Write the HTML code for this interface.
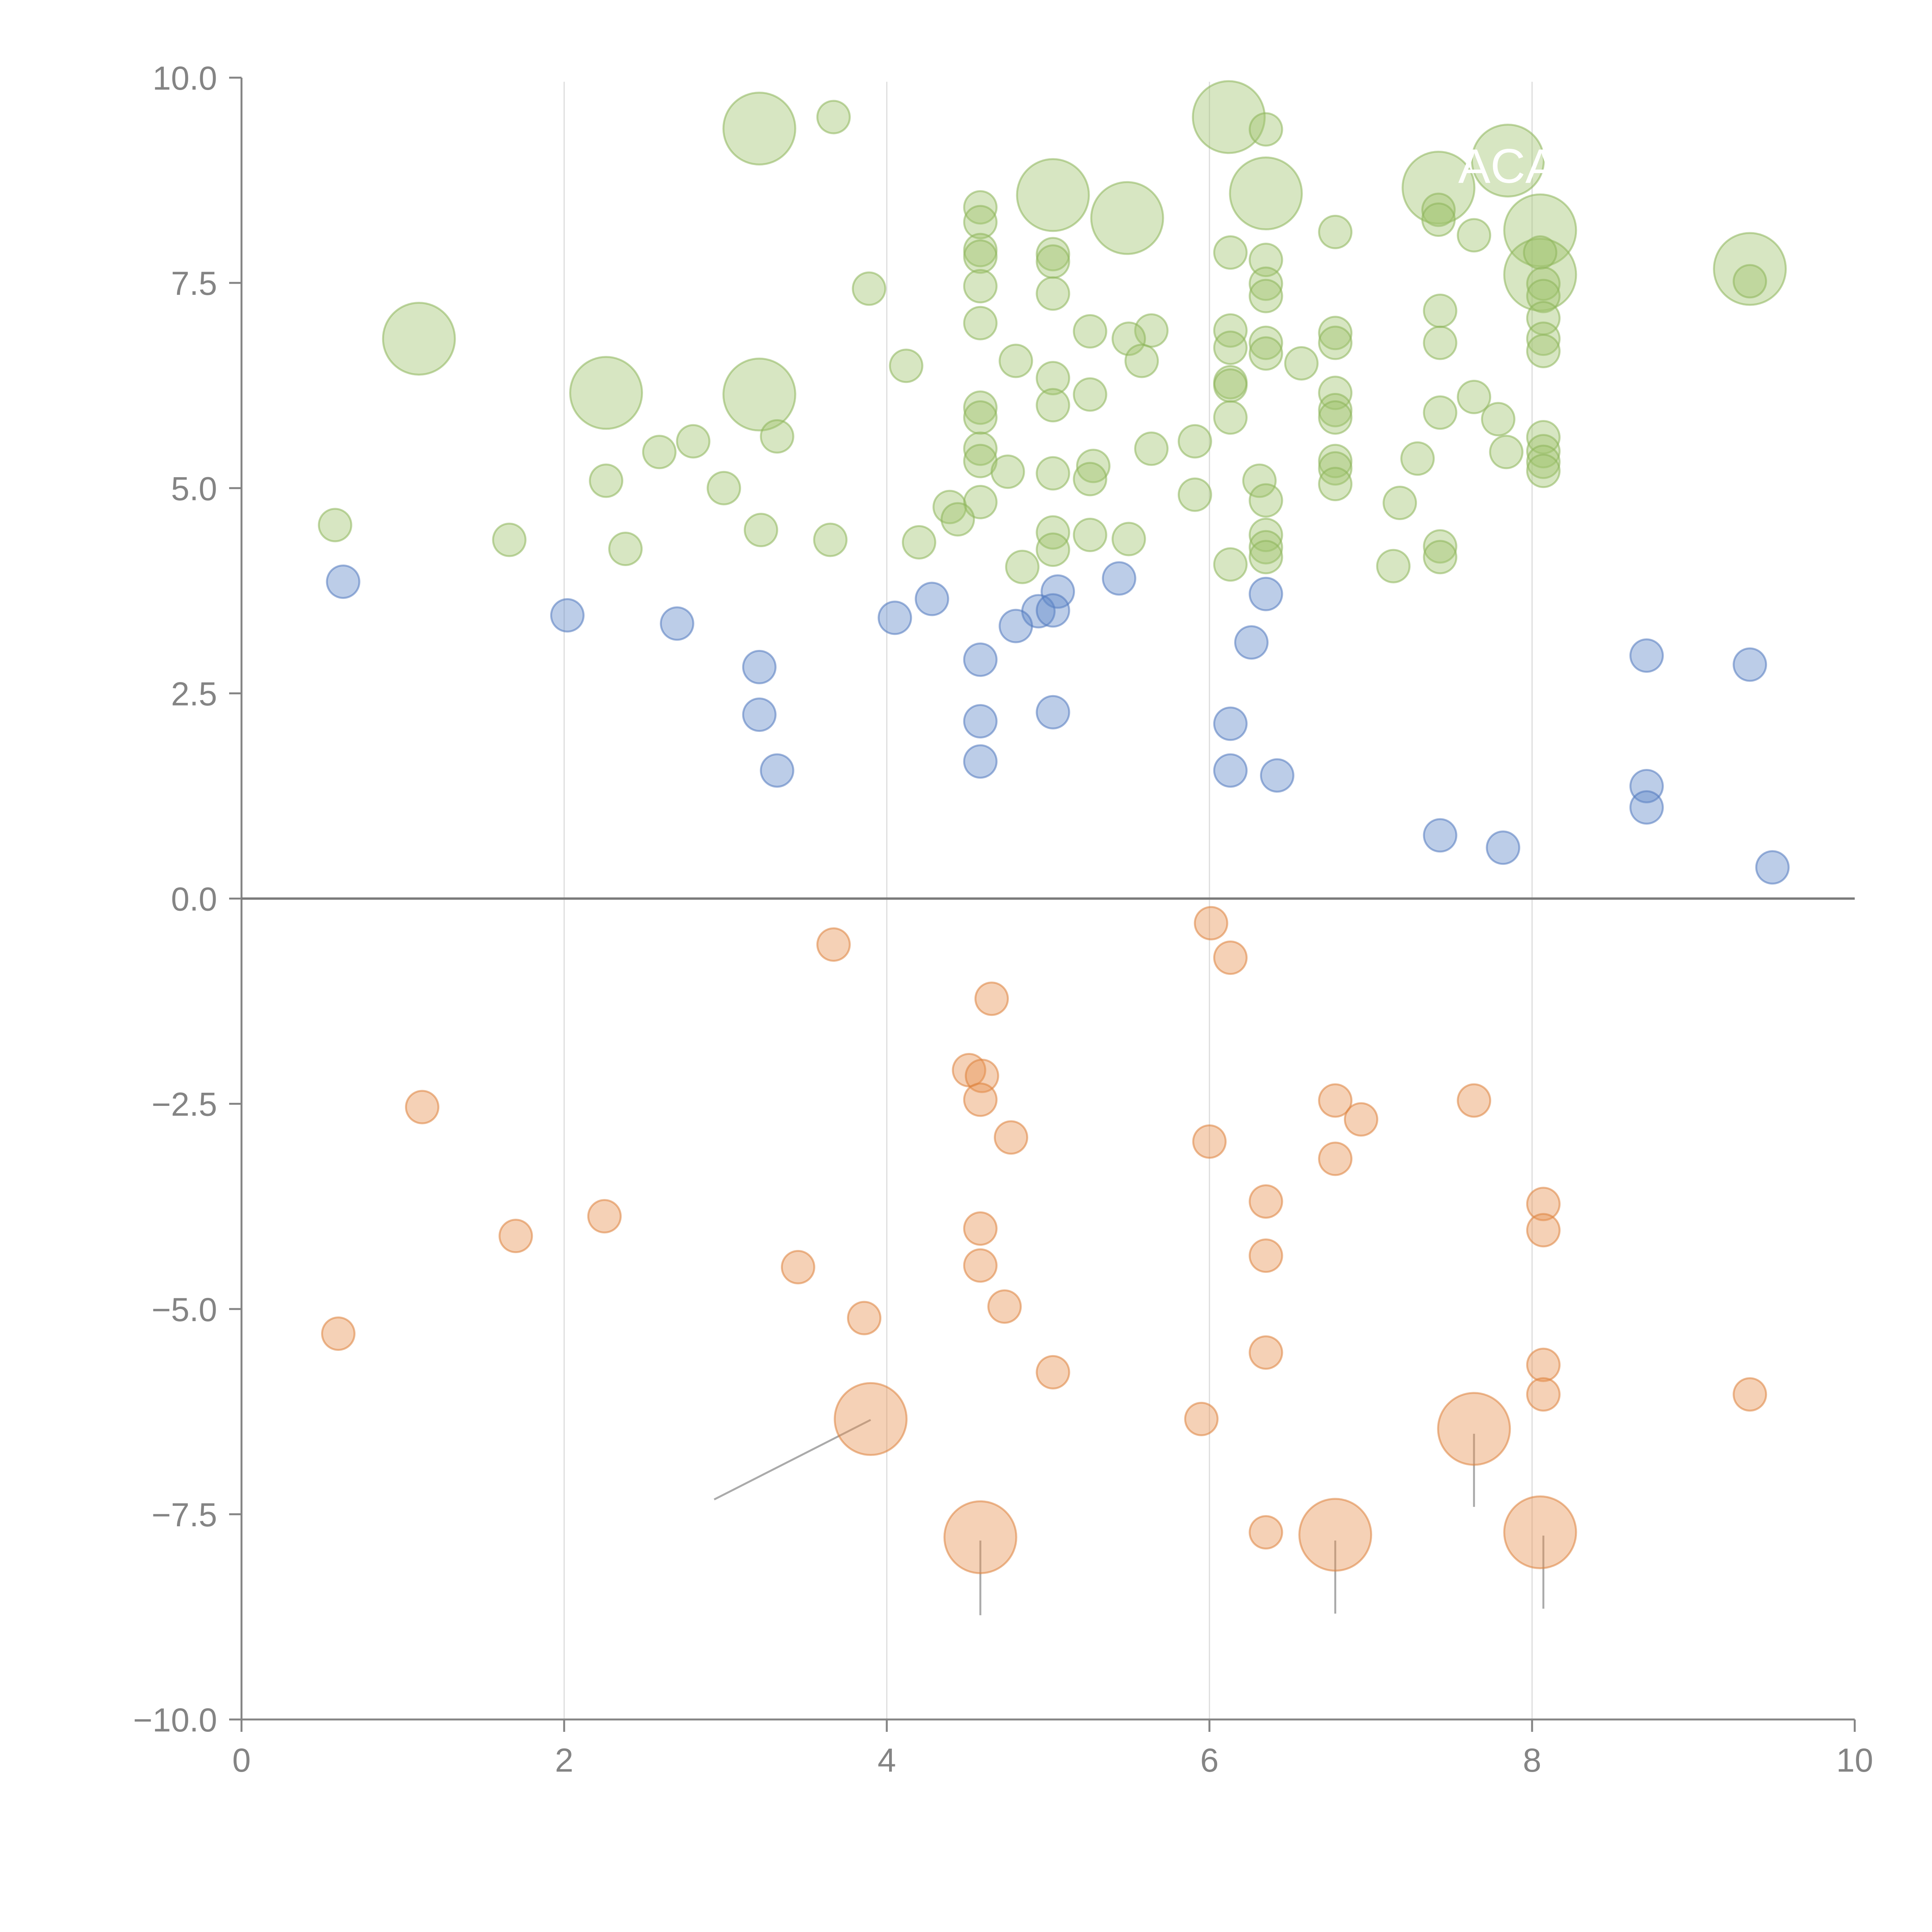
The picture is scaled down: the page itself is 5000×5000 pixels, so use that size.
<!DOCTYPE html>
<html><head><meta charset="utf-8">
<style>
html,body{margin:0;padding:0;background:#fff;}
svg{display:block;}
text{font-family:"Liberation Sans",Arial,sans-serif;}
</style></head>
<body>
<svg id="chart" width="5000" height="5000" viewBox="0 0 5000 5000" xmlns="http://www.w3.org/2000/svg">
<g id="grid"></g>
<g id="axes"></g>
<g id="leaders"></g>
<g id="marks"></g>
<g id="labels"></g>
</svg>
<script>
const xTicks=[0,2,4,6,8,10];
const xTickLabels=["0","2","4","6","8","10"];
const yTicks=[10,7.5,5,2.5,0,-2.5,-5,-7.5,-10];
const yTickLabels=["10.0","7.5","5.0","2.5","0.0","\u22122.5","\u22125.0","\u22127.5","\u221210.0"];

const greenX=[3.21,3.67,6.12,6.35,7.85,7.42,5.03,6.35,5.49,8.05,4.58,4.58,6.78,7.64,7.42,7.42,4.58,4.58,5.03,5.03,6.13,6.35,6.35,6.35,8.05,8.05,8.07,8.07,9.35,9.35,3.89,4.58,5.03,7.43,4.58,6.13,8.07,5.64,5.26,1.10,5.50,6.78,6.78,6.13,6.35,6.35,7.43,8.07,8.07,5.58,6.57,4.80,4.12,5.03,6.13,6.13,2.26,3.21,5.26,6.78,7.64,5.03,4.58,4.58,6.78,6.78,7.43,6.13,7.79,3.32,8.07,5.91,2.80,2.59,5.64,4.58,4.58,7.84,8.07,8.07,8.07,6.78,6.78,7.29,5.28,4.75,5.03,5.26,6.31,2.26,6.78,2.99,5.91,6.35,4.58,7.18,4.39,4.44,0.58,5.03,5.26,6.35,3.22,1.66,3.65,5.50,4.20,7.43,7.43,2.38,5.03,6.35,6.35,4.84,6.13,7.14];
const greenY=[9.38,9.52,9.52,9.37,8.99,8.66,8.57,8.59,8.29,8.14,8.42,8.24,8.12,8.08,8.39,8.27,7.90,7.82,7.85,7.76,7.87,7.78,7.49,7.34,7.60,7.87,7.49,7.34,7.67,7.52,7.43,7.46,7.37,7.16,7.01,6.92,7.07,6.92,6.91,6.82,6.82,6.89,6.77,6.71,6.77,6.64,6.77,6.82,6.67,6.55,6.52,6.55,6.49,6.34,6.29,6.25,6.16,6.14,6.14,6.16,6.11,6.01,5.98,5.86,5.95,5.86,5.92,5.86,5.84,5.63,5.62,5.57,5.57,5.44,5.48,5.48,5.33,5.44,5.45,5.32,5.21,5.33,5.24,5.36,5.27,5.20,5.18,5.11,5.09,5.09,5.05,5.00,4.92,4.85,4.83,4.82,4.77,4.62,4.55,4.46,4.43,4.43,4.49,4.37,4.37,4.38,4.34,4.29,4.16,4.26,4.25,4.28,4.16,4.04,4.07,4.05];
const greenSize=[2,1,2,1,2,2,2,2,2,2,1,1,1,1,1,1,1,1,1,1,1,1,1,1,2,1,1,1,2,1,1,1,1,1,1,1,1,1,1,2,1,1,1,1,1,1,1,1,1,1,1,1,1,1,1,1,2,2,1,1,1,1,1,1,1,1,1,1,1,1,1,1,1,1,1,1,1,1,1,1,1,1,1,1,1,1,1,1,1,1,1,1,1,1,1,1,1,1,1,1,1,1,1,1,1,1,1,1,1,1,1,1,1,1,1,1];

const blueX=[0.63,5.44,4.28,5.06,6.35,2.02,4.05,4.94,5.03,2.70,4.80,6.26,4.58,8.71,3.21,9.35,3.21,5.03,4.58,6.13,4.58,3.32,6.13,6.42,8.71,8.71,7.43,7.82,9.49];
const blueY=[3.86,3.90,3.65,3.74,3.71,3.45,3.42,3.50,3.51,3.35,3.32,3.12,2.91,2.96,2.82,2.85,2.24,2.27,2.16,2.13,1.67,1.56,1.56,1.50,1.37,1.11,0.77,0.62,0.38];

const orangeX=[6.01,3.67,6.13,4.65,4.51,4.59,4.58,1.12,6.78,7.64,6.94,4.77,6.00,6.78,6.35,8.07,2.25,4.58,8.07,1.70,6.35,3.45,4.58,4.73,3.86,0.60,6.35,8.07,5.03,8.07,9.35,5.95,3.90,7.64,6.35,4.58,6.78,8.05];
const orangeY=[-0.30,-0.56,-0.72,-1.22,-2.09,-2.16,-2.45,-2.54,-2.46,-2.46,-2.69,-2.91,-2.96,-3.17,-3.69,-3.72,-3.87,-4.02,-4.04,-4.11,-4.35,-4.49,-4.47,-4.97,-5.11,-5.30,-5.53,-5.68,-5.77,-6.04,-6.04,-6.34,-6.34,-6.46,-7.72,-7.78,-7.75,-7.72];
const orangeSize=[1,1,1,1,1,1,1,1,1,1,1,1,1,1,1,1,1,1,1,1,1,1,1,1,1,1,1,1,1,1,1,1,2,2,1,2,2,2];

const leaderFromX=[3.90,4.58,6.78,7.64,8.07];
const leaderFromY=[-6.35,-7.82,-7.82,-6.52,-7.76];
const leaderToX=[2.93,4.58,6.78,7.64,8.07];
const leaderToY=[-7.32,-8.73,-8.71,-7.41,-8.65];

const NS="http://www.w3.org/2000/svg";
function sx(v){return 625+v*417.5;}
function sy(v){return 2325.5-v*212.45;}
function rad(s){return s===2?93:42;}
function mk(tag,attrs,parent){const e=document.createElementNS(NS,tag);for(const k in attrs)e.setAttribute(k,attrs[k]);parent.appendChild(e);return e;}

const grid=document.getElementById('grid');
const axes=document.getElementById('axes');
const leaders=document.getElementById('leaders');
const marks=document.getElementById('marks');
const labels=document.getElementById('labels');

[2,4,6,8].forEach(v=>{
  const l=mk('line',{x1:sx(v),x2:sx(v),y1:sy(9.95),y2:sy(-10),stroke:'#dcdcdc','stroke-width':3},grid);
  
  
});
let a=mk('line',{x1:sx(0),x2:sx(0),y1:sy(10),y2:sy(-10)+32,stroke:'#848484','stroke-width':5},axes);


a=mk('line',{x1:sx(0)-32,x2:sx(10),y1:sy(-10),y2:sy(-10),stroke:'#848484','stroke-width':5},axes);


a=mk('line',{x1:sx(0),x2:sx(10),y1:sy(0),y2:sy(0),stroke:'#7a7a7a','stroke-width':6},axes);


yTicks.forEach((v,i)=>{
  const t=mk('line',{x1:sx(0)-32,x2:sx(0),y1:sy(v),y2:sy(v),stroke:'#848484','stroke-width':5},axes);
  
  
  const tx=mk('text',{x:562,y:sy(v)+31,'text-anchor':'end','font-size':86,fill:'#848484'},axes);
  tx.textContent=yTickLabels[i];
  
  
});
xTicks.forEach((v,i)=>{
  const t=mk('line',{x1:sx(v),x2:sx(v),y1:sy(-10),y2:sy(-10)+32,stroke:'#848484','stroke-width':5},axes);
  
  
  const tx=mk('text',{x:sx(v),y:4585,'text-anchor':'middle','font-size':86,fill:'#848484'},axes);
  tx.textContent=xTickLabels[i];
  
  
});

leaderFromX.forEach((v,i)=>{
  const l=mk('line',{x1:sx(v),y1:sy(leaderFromY[i]),x2:sx(leaderToX[i]),y2:sy(leaderToY[i]),stroke:'#aaaaaa','stroke-width':5},leaders);
  
  
});

function drawSeries(xs,ys,sizes,fill,stroke,name){
  xs.forEach((v,i)=>{
    const c=mk('circle',{cx:sx(v),cy:sy(ys[i]),r:rad(sizes?sizes[i]:1),fill:fill,stroke:stroke,'stroke-width':5},marks);
    
    
  });
}
drawSeries(greenX,greenY,greenSize,'rgba(160,196,110,0.42)','rgba(140,180,90,0.55)','green-bubble');
drawSeries(blueX,blueY,null,'rgba(95,135,200,0.42)','rgba(80,120,190,0.55)','blue-bubble');
drawSeries(orangeX,orangeY,orangeSize,'rgba(230,145,80,0.42)','rgba(220,130,60,0.55)','orange-bubble');

const lab=mk('text',{x:sx(7.85),y:sy(8.72),'text-anchor':'middle','font-size':125,fill:'#ffffff'},labels);
lab.textContent='ACA';


</script>
</body></html>
